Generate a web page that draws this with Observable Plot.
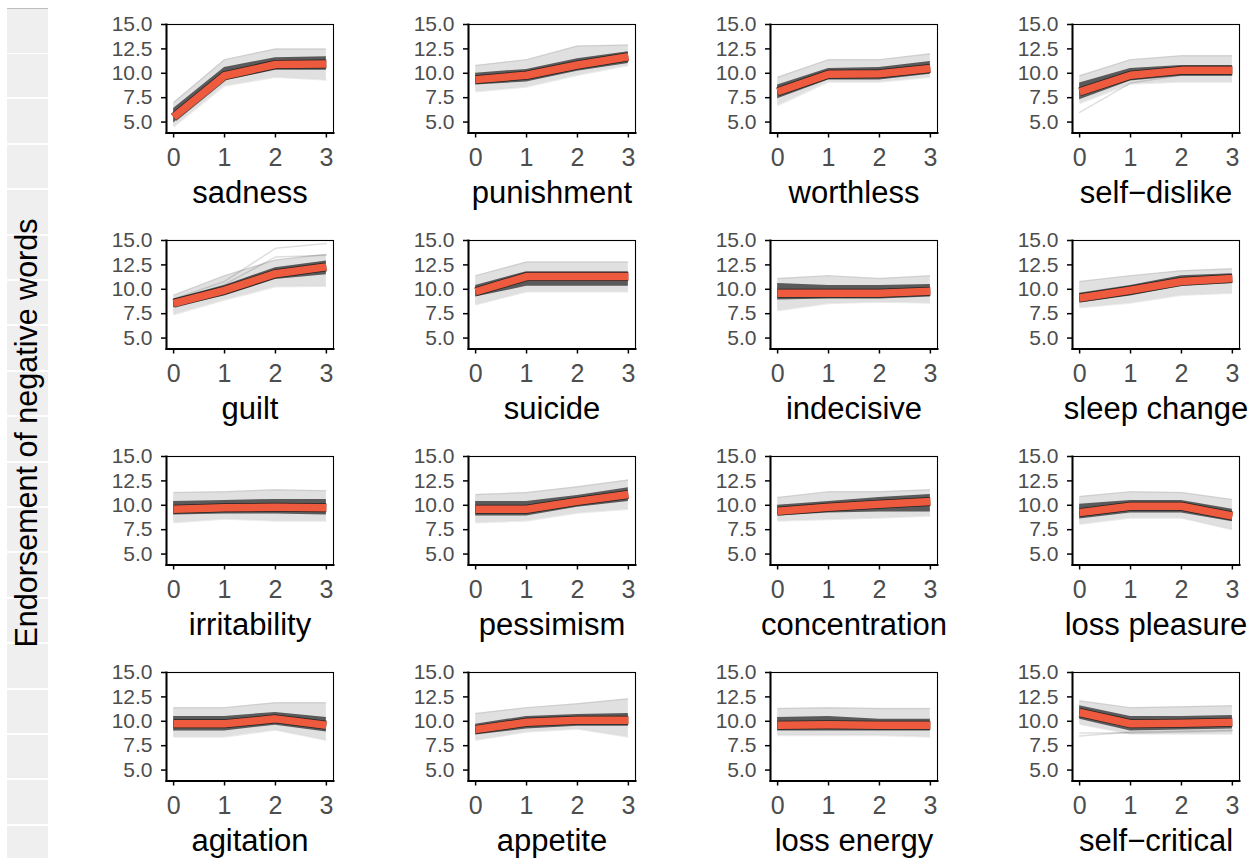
<!DOCTYPE html>
<html>
<head>
<meta charset="utf-8">
<script src="https://cdn.jsdelivr.net/npm/d3@7"></script>
<script src="https://cdn.jsdelivr.net/npm/@observablehq/plot@0.6"></script>
<style>
  html, body { margin: 0; padding: 0; background: #fff; }
  #page { position: relative; width: 1260px; height: 858px; background: #fff; overflow: hidden; font-family: "Liberation Sans", Arial, sans-serif; }
  .strip { position: absolute; left: 7px; width: 41px; background: #efefef; }
  .panel { position: absolute; }
  #ytitle { position: absolute; left: 0; top: 0; }
</style>
</head>
<body>
<div id="page"></div>
<script>
// ---- data ----
const symptoms = [
  "sadness", "punishment", "worthless", "self\u2212dislike",
  "guilt", "suicide", "indecisive", "sleep change",
  "irritability", "pessimism", "concentration", "loss pleasure",
  "agitation", "appetite", "loss energy", "self\u2212critical"
];
const xLevels = [0, 1, 2, 3];
const yTicks = [5, 7.5, 10, 12.5, 15];
const yTitle = "Endorsement of negative words";

// red summary line per symptom (x = 0..3)
const meanValues = [
  [5.5, 9.75, 10.9, 10.95], [9.35, 9.8, 10.85, 11.7], [8.1, 9.9, 9.95, 10.5], [8.1, 9.8, 10.3, 10.3],
  [8.55, 9.9, 11.6, 12.3], [9.75, 11.3, 11.3, 11.3], [9.6, 9.6, 9.6, 9.8], [9.1, 9.9, 10.8, 11.1],
  [9.6, 9.75, 9.8, 9.75], [9.6, 9.6, 10.4, 11.1], [9.4, 9.8, 10.1, 10.4], [9.25, 9.9, 9.9, 8.9],
  [9.75, 9.75, 10.25, 9.6], [9.15, 9.9, 10.1, 10.1], [9.6, 9.65, 9.6, 9.6], [10.9, 9.75, 9.8, 9.9]
];
// envelope of the light gray lines
const outerHigh = [
  [7.0, 11.4, 12.5, 12.5], [10.8, 11.4, 12.8, 12.9], [9.6, 11.4, 11.4, 12.0], [9.75, 11.4, 11.8, 11.8],
  [9.4, 11.4, 13.0, 13.6], [11.4, 12.8, 12.8, 12.8], [11.1, 11.4, 11.1, 11.4], [10.8, 11.4, 11.9, 12.1],
  [11.3, 11.4, 11.6, 11.5], [11.1, 11.3, 11.9, 12.6], [10.8, 11.4, 11.4, 11.6], [10.9, 11.4, 11.3, 10.6],
  [11.4, 11.4, 11.9, 11.9], [10.8, 11.4, 11.8, 12.3], [11.3, 11.4, 11.3, 11.3], [12.1, 11.4, 11.5, 11.6]
];
const outerLow = [
  [4.5, 8.7, 9.6, 9.3], [8.1, 8.6, 9.8, 10.8], [6.7, 9.1, 9.1, 9.6], [6.9, 8.9, 9.1, 9.1],
  [7.4, 8.9, 10.25, 10.3], [8.4, 9.75, 9.75, 9.75], [7.8, 8.55, 8.7, 8.6], [8.1, 8.6, 9.4, 9.6],
  [8.2, 8.6, 8.4, 8.4], [8.2, 8.4, 9.2, 9.6], [8.4, 8.55, 8.7, 8.9], [8.05, 8.7, 8.7, 7.5],
  [8.4, 8.4, 9.1, 8.05], [8.05, 8.9, 9.2, 8.4], [8.55, 8.55, 8.55, 8.4], [9.7, 8.7, 8.7, 8.7]
];
// core of the dark gray lines
const innerHigh = [
  [6.4, 10.6, 11.6, 11.7], [10.0, 10.4, 11.5, 12.2], [8.8, 10.5, 10.6, 11.2], [9.0, 10.5, 10.8, 10.8],
  [9.0, 10.4, 12.2, 12.9], [10.4, 11.8, 11.8, 11.8], [10.6, 10.4, 10.4, 10.5], [9.6, 10.4, 11.4, 11.6],
  [10.4, 10.5, 10.6, 10.6], [10.4, 10.4, 11.0, 11.8], [10.0, 10.4, 10.8, 11.1], [10.1, 10.5, 10.5, 9.6],
  [10.5, 10.5, 10.9, 10.4], [9.7, 10.5, 10.7, 10.8], [10.4, 10.5, 10.2, 10.2], [11.6, 10.5, 10.5, 10.6]
];
const innerLow = [
  [4.9, 9.2, 10.3, 10.3], [8.8, 9.1, 10.2, 11.0], [7.4, 9.3, 9.3, 9.9], [7.3, 9.2, 9.7, 9.7],
  [8.1, 9.3, 11.0, 11.5], [9.2, 10.3, 10.3, 10.3], [8.9, 9.0, 9.0, 9.2], [8.6, 9.3, 10.3, 10.6],
  [9.0, 9.1, 9.1, 9.0], [8.9, 8.9, 9.8, 10.4], [8.9, 9.2, 9.3, 9.3], [8.6, 9.2, 9.2, 8.3],
  [9.0, 9.0, 9.6, 8.9], [8.6, 9.2, 9.5, 9.5], [9.0, 9.0, 9.0, 9.0], [10.2, 9.0, 9.1, 9.2]
];
// a few isolated light lines
const strayPanels = [3, 4, 4, 15, 15];
const strayValues = [
  [6.0, 9.0, 9.8, 9.8],
  [9.0, 10.8, 14.2, 14.7],
  [8.7, 10.5, 13.3, 13.5],
  [8.8, 8.8, 8.9, 9.0],
  [8.5, 8.9, 9.0, 9.1]
];

// ---- layout ----
const page = document.getElementById("page");
const red = "#EE5A3D";
const fontFamily = "'Liberation Sans', Arial, Helvetica, sans-serif";

// grey strip at the left edge
{
  const top = document.createElement("div");
  top.className = "strip";
  top.style.top = "8px"; top.style.height = "44px";
  top.style.borderTop = "1px solid #bdbdbd";
  page.appendChild(top);
  for (let y = 54; y < 858; y += 45.4) {
    const d = document.createElement("div");
    d.className = "strip";
    d.style.top = y + "px";
    d.style.height = "43.4px";
    page.appendChild(d);
  }
}

// y title
{
  const ns = "http://www.w3.org/2000/svg";
  const svg = document.createElementNS(ns, "svg");
  svg.setAttribute("width", 60); svg.setAttribute("height", 858);
  svg.id = "ytitle";
  const t = document.createElementNS(ns, "text");
  t.setAttribute("transform", "translate(37,433) rotate(-90)");
  t.setAttribute("text-anchor", "middle");
  t.setAttribute("font-family", fontFamily);
  t.setAttribute("font-size", "30.5");
  t.setAttribute("fill", "black");
  t.textContent = yTitle;
  svg.appendChild(t);
  page.appendChild(svg);
}

const W = 302, H = 216, mL = 70, mT = 10, frameW = 167, frameH = 108.5;

symptoms.forEach((name, i) => {
  const col = i % 4, row = Math.floor(i / 4);
  const rows = xLevels.map((x, k) => ({
    x,
    mean: meanValues[i][k],
    oh: outerHigh[i][k], ol: outerLow[i][k],
    ih: innerHigh[i][k], il: innerLow[i][k]
  }));
  const stray = [];
  strayPanels.forEach((p, j) => {
    if (p === i) xLevels.forEach((x, k) => stray.push({id: j, x, y: strayValues[j][k]}));
  });
  const edge = {x: "x", stroke: "black", strokeWidth: 1.5, strokeLinecap: "butt"};

  const chart = Plot.plot({
    width: W, height: H,
    marginLeft: mL, marginRight: W - mL - frameW,
    marginTop: mT, marginBottom: H - mT - frameH,
    style: {fontFamily, fontSize: "21px", color: "#4D4D4D", background: "transparent", overflow: "visible"},
    x: {domain: [-0.14, 3.14], label: null, axis: null},
    y: {domain: [3.88, 15.0], label: null, axis: null},
    marks: [
      Plot.areaY(rows, {x: "x", y1: "ol", y2: "oh", fill: "black", fillOpacity: 0.12}),
      Plot.line(rows, {...edge, y: "oh", strokeOpacity: 0.08}),
      Plot.line(rows, {...edge, y: "ol", strokeOpacity: 0.08}),
      Plot.areaY(rows, {x: "x", y1: "il", y2: "ih", fill: "black", fillOpacity: 0.6}),
      Plot.line(stray, {x: "x", y: "y", z: "id", stroke: "black", strokeOpacity: 0.13, strokeWidth: 1.5}),
      Plot.line(rows, {x: "x", y: "mean", stroke: "black", strokeOpacity: 0.6, strokeWidth: 9, strokeLinecap: "butt", strokeLinejoin: "round"}),
      Plot.line(rows, {x: "x", y: "mean", stroke: red, strokeWidth: 7.5, strokeLinecap: "butt", strokeLinejoin: "round"}),
      Plot.frame({stroke: "black", strokeWidth: 1.1}),
      Plot.frame({anchor: "left", stroke: "black", strokeWidth: 2}),
      Plot.frame({anchor: "bottom", stroke: "black", strokeWidth: 2}),
      Plot.axisX(xLevels, {tickSize: 5, tickPadding: 10, stroke: "black", strokeWidth: 1.5, fill: "#4D4D4D", fontSize: 25, tickFormat: d => String(d), label: null}),
      Plot.axisY(yTicks, {tickSize: 5, tickPadding: 9, stroke: "black", strokeWidth: 1.5, fill: "#4D4D4D", fontSize: 21, tickFormat: d3.format(".1f"), label: null}),
      Plot.text([name], {text: d => d, frameAnchor: "bottom", dy: 60, fontSize: 31, fill: "black", lineAnchor: "middle"})
    ]
  });
  chart.classList.add("panel");
  chart.style.left = (166 - mL + 302 * col) + "px";
  chart.style.top = (24 - mT + 216 * row) + "px";
  page.appendChild(chart);
});
</script>
</body>
</html>
